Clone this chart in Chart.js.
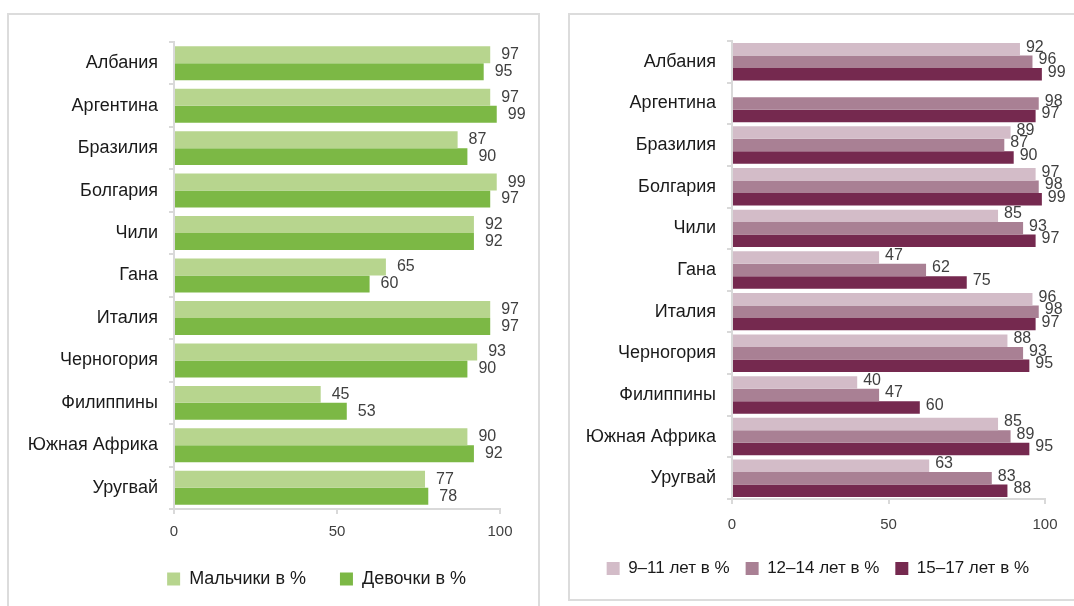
<!DOCTYPE html>
<html>
<head>
<meta charset="utf-8">
<script src="https://cdn.jsdelivr.net/npm/chart.js@4"></script>
<style>
  body { margin: 0; background: #fff; width: 1074px; height: 606px; overflow: hidden; position: relative; font-family: "Liberation Sans", sans-serif; }
  .panel { position: absolute; border: 2px solid #dcdcdc; box-sizing: border-box; background: #fff; }
  #p1 { left: 7px; top: 13px; width: 533px; height: 600px; }
  #p2 { left: 568px; top: 13px; width: 510px; height: 588px; }
  .panel canvas { position: absolute; left: -1px; top: -1px; }
</style>
</head>
<body>
<div class="panel" id="p1"><canvas id="genderChart" width="531" height="592"></canvas></div>
<div class="panel" id="p2"><canvas id="ageChart" width="506" height="586"></canvas></div>
<script>
// categories
const countries = ['Албания', 'Аргентина', 'Бразилия', 'Болгария', 'Чили', 'Гана', 'Италия', 'Черногория', 'Филиппины', 'Южная Африка', 'Уругвай'];

// left chart: by gender
const boys  = [97, 97, 87, 99, 92, 65, 97, 93, 45, 90, 77];
const girls = [95, 99, 90, 97, 92, 60, 97, 90, 53, 92, 78];

// right chart: by age group
const age9to11  = [92, null, 89, 97, 85, 47, 96, 88, 40, 85, 63];
const age12to14 = [96, 98, 87, 98, 93, 62, 98, 93, 47, 89, 83];
const age15to17 = [99, 97, 90, 99, 97, 75, 97, 95, 60, 95, 88];

const xTicks = [0, 50, 100];

const axisColor = '#d9d9d9';
const textColor = '#404040';

// draws the value at the end of each bar
const barValues = {
  id: 'barValues',
  afterDatasetsDraw(chart, args, opts) {
    const ctx = chart.ctx;
    ctx.save();
    ctx.font = opts.font;
    ctx.fillStyle = textColor;
    ctx.textBaseline = 'middle';
    ctx.textAlign = 'left';
    chart.data.datasets.forEach((ds, i) => {
      const meta = chart.getDatasetMeta(i);
      meta.data.forEach((bar, j) => {
        if (ds.data[j] == null) return;
        ctx.fillText(ds.data[j], bar.x + opts.offset, bar.y + (opts.dy || 0));
      });
    });
    ctx.restore();
  }
};

function makeOptions(cfg) {
  return {
    indexAxis: 'y',
    responsive: false,
    animation: false,
    layout: { padding: { top: cfg.top, right: cfg.right, left: 0, bottom: cfg.bottom } },
    plugins: {
      legend: {
        position: 'bottom',
        align: cfg.legendAlign,
        labels: {
          boxWidth: 13, boxHeight: 13, padding: cfg.legendPad,
          color: '#1a1a1a',
          font: { family: 'Liberation Sans', size: cfg.legendSize }
        }
      },
      tooltip: { enabled: false },
      barValues: { offset: cfg.labelOffset, dy: cfg.labelDy, font: '16px "Liberation Sans"' }
    },
    scales: {
      x: {
        min: 0, max: 100,
        afterBuildTicks: s => { s.ticks = xTicks.map(v => ({ value: v })); },
        afterFit: s => { s.height = cfg.xHeight; },
        grid: { drawOnChartArea: false, tickLength: 5, color: axisColor, lineWidth: 2 },
        border: { color: axisColor, width: 2 },
        ticks: { color: textColor, padding: cfg.xPad, font: { family: 'Liberation Sans', size: 15 } }
      },
      y: {
        afterFit: s => { s.width = cfg.yWidth; },
        grid: { drawOnChartArea: false, tickLength: 5, color: axisColor, lineWidth: 2, offset: true },
        border: { color: axisColor, width: 2 },
        ticks: { color: '#1a1a1a', padding: 11, font: { family: 'Liberation Sans', size: 18 } }
      }
    }
  };
}

new Chart(document.getElementById('genderChart'), {
  type: 'bar',
  data: {
    labels: countries,
    datasets: [
      { label: 'Мальчики в %', data: boys, backgroundColor: '#b7d58e', categoryPercentage: 0.8, barPercentage: 1 },
      { label: 'Девочки в %', data: girls, backgroundColor: '#7cb845', categoryPercentage: 0.8, barPercentage: 1 }
    ]
  },
  options: makeOptions({ top: 28, right: 39, bottom: 8, yWidth: 166, xHeight: 27, xPad: 9, legendAlign: 'end', legendPad: 34, legendSize: 18, labelOffset: 11, labelDy: 0 }),
  plugins: [barValues]
});

new Chart(document.getElementById('ageChart'), {
  type: 'bar',
  data: {
    labels: countries,
    datasets: [
      { label: '9–11 лет в %', data: age9to11, backgroundColor: '#d3bcc8', categoryPercentage: 0.9, barPercentage: 1 },
      { label: '12–14 лет в %', data: age12to14, backgroundColor: '#a98094', categoryPercentage: 0.9, barPercentage: 1 },
      { label: '15–17 лет в %', data: age15to17, backgroundColor: '#75294f', categoryPercentage: 0.9, barPercentage: 1 }
    ]
  },
  options: makeOptions({ top: 27, right: 30, bottom: 13, yWidth: 163, xHeight: 45, xPad: 12, legendAlign: 'end', legendPad: 16, legendSize: 17, labelOffset: 6, labelDy: -2 }),
  plugins: [barValues]
});
</script>
</body>
</html>
